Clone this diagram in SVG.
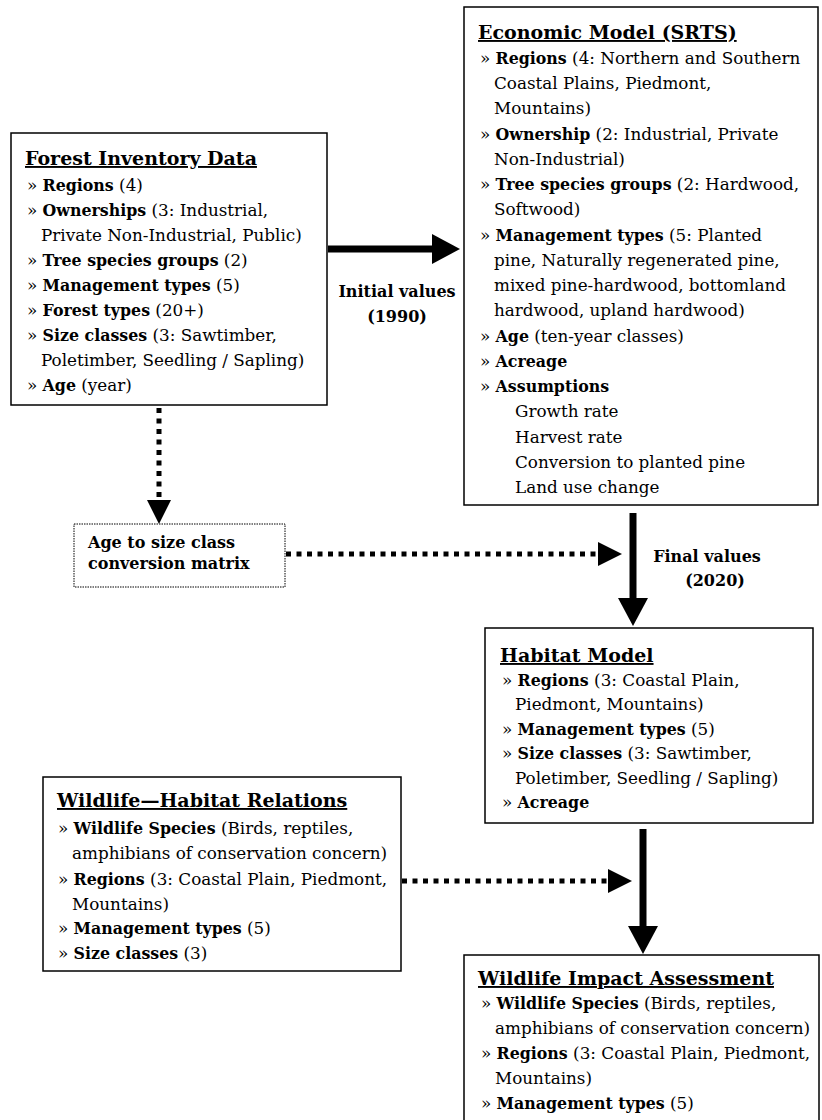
<svg xmlns="http://www.w3.org/2000/svg" width="822" height="1120" viewBox="0 0 822 1120">
<style>
text{font-family:"DejaVu Serif","Liberation Serif",serif;fill:#000}
.t{font-size:19px;font-weight:bold;text-decoration:underline}
.b{font-size:16.8px}
.bb{font-weight:bold;font-size:15.8px}
.lbl{font-size:16px;font-weight:bold}
.box{fill:#fff;stroke:#000;stroke-width:1.5}
.dbox{fill:#fff;stroke:#000;stroke-width:1;stroke-dasharray:1.5 1}
.solid{stroke:#000;stroke-width:7;fill:none}
.dot{stroke:#000;stroke-width:5;stroke-dasharray:5 5.5;fill:none}
</style>
<defs>
<marker id="big" markerUnits="userSpaceOnUse" markerWidth="30" markerHeight="32" refX="0" refY="15" orient="auto"><path d="M0,0 L28,15 L0,30 z" fill="#000"/></marker>
<marker id="small" markerUnits="userSpaceOnUse" markerWidth="26" markerHeight="26" refX="0" refY="12" orient="auto"><path d="M0,0 L24,12 L0,24 z" fill="#000"/></marker>
</defs>
<rect width="822" height="1120" fill="#fff"/>

<g id="connectors">
<path class="solid" d="M328,249 H432" marker-end="url(#big)"/>
<path class="dot" d="M159,408 V500" marker-end="url(#small)"/>
<path class="dot" d="M286,554 H598" marker-end="url(#small)"/>
<path class="solid" d="M633,513 V598" marker-end="url(#big)"/>
<path class="dot" d="M402,881 H608" marker-end="url(#small)"/>
<path class="solid" d="M643,829 V926" marker-end="url(#big)"/>
<text class="lbl" x="397" y="297" text-anchor="middle">Initial values</text>
<text class="lbl" x="397" y="322" text-anchor="middle">(1990)</text>
<text class="lbl" x="707" y="562" text-anchor="middle">Final values</text>
<text class="lbl" x="715" y="586" text-anchor="middle">(2020)</text>
</g>

<g id="forest-inventory">
<rect class="box" x="11" y="133" width="316" height="272"/>
<text class="t" x="25" y="165">Forest Inventory Data</text>
<text class="b" x="27" y="191">» <tspan class="bb">Regions</tspan> (4)</text>
<text class="b" x="27" y="216">» <tspan class="bb">Ownerships</tspan> (3: Industrial,</text>
<text class="b" x="41" y="241">Private Non-Industrial, Public)</text>
<text class="b" x="27" y="266">» <tspan class="bb">Tree species groups</tspan> (2)</text>
<text class="b" x="27" y="291">» <tspan class="bb">Management types</tspan> (5)</text>
<text class="b" x="27" y="316">» <tspan class="bb">Forest types</tspan> (20+)</text>
<text class="b" x="27" y="341">» <tspan class="bb">Size classes</tspan> (3: Sawtimber,</text>
<text class="b" x="41" y="366">Poletimber, Seedling / Sapling)</text>
<text class="b" x="27" y="391">» <tspan class="bb">Age</tspan> (year)</text>
</g>

<g id="economic-model">
<rect class="box" x="464" y="7" width="354" height="498"/>
<text class="t" x="478" y="39">Economic Model (SRTS)</text>
<text class="b" x="480" y="64">» <tspan class="bb">Regions</tspan> (4: Northern and Southern</text>
<text class="b" x="494" y="89">Coastal Plains, Piedmont,</text>
<text class="b" x="494" y="114">Mountains)</text>
<text class="b" x="480" y="140">» <tspan class="bb">Ownership</tspan> (2: Industrial, Private</text>
<text class="b" x="494" y="165">Non-Industrial)</text>
<text class="b" x="480" y="190">» <tspan class="bb">Tree species groups</tspan> (2: Hardwood,</text>
<text class="b" x="494" y="215">Softwood)</text>
<text class="b" x="480" y="241">» <tspan class="bb">Management types</tspan> (5: Planted</text>
<text class="b" x="494" y="266">pine, Naturally regenerated pine,</text>
<text class="b" x="494" y="291">mixed pine-hardwood, bottomland</text>
<text class="b" x="494" y="316">hardwood, upland hardwood)</text>
<text class="b" x="480" y="342">» <tspan class="bb">Age</tspan> (ten-year classes)</text>
<text class="b" x="480" y="367">» <tspan class="bb">Acreage</tspan></text>
<text class="b" x="480" y="392">» <tspan class="bb">Assumptions</tspan></text>
<text class="b" x="515" y="417">Growth rate</text>
<text class="b" x="515" y="443">Harvest rate</text>
<text class="b" x="515" y="468">Conversion to planted pine</text>
<text class="b" x="515" y="493">Land use change</text>
</g>

<g id="age-size-matrix">
<rect class="dbox" x="74" y="524" width="211" height="63"/>
<text class="lbl" x="88" y="548">Age to size class</text>
<text class="lbl" x="88" y="569">conversion matrix</text>
</g>

<g id="habitat-model">
<rect class="box" x="485" y="628" width="328" height="195"/>
<text class="t" x="500" y="662">Habitat Model</text>
<text class="b" x="502" y="686">» <tspan class="bb">Regions</tspan> (3: Coastal Plain,</text>
<text class="b" x="515" y="710">Piedmont, Mountains)</text>
<text class="b" x="502" y="735">» <tspan class="bb">Management types</tspan> (5)</text>
<text class="b" x="502" y="759">» <tspan class="bb">Size classes</tspan> (3: Sawtimber,</text>
<text class="b" x="515" y="784">Poletimber, Seedling / Sapling)</text>
<text class="b" x="502" y="808">» <tspan class="bb">Acreage</tspan></text>
</g>

<g id="wildlife-habitat-relations">
<rect class="box" x="43" y="777" width="358" height="194"/>
<text class="t" x="57" y="807">Wildlife—Habitat Relations</text>
<text class="b" x="58" y="834">» <tspan class="bb">Wildlife Species</tspan> (Birds, reptiles,</text>
<text class="b" x="72" y="859">amphibians of conservation concern)</text>
<text class="b" x="58" y="885">» <tspan class="bb">Regions</tspan> (3: Coastal Plain, Piedmont,</text>
<text class="b" x="72" y="910">Mountains)</text>
<text class="b" x="58" y="934">» <tspan class="bb">Management types</tspan> (5)</text>
<text class="b" x="58" y="959">» <tspan class="bb">Size classes</tspan> (3)</text>
</g>

<g id="wildlife-impact-assessment">
<rect class="box" x="464" y="955" width="355" height="200"/>
<text class="t" x="478" y="985">Wildlife Impact Assessment</text>
<text class="b" x="481" y="1009">» <tspan class="bb">Wildlife Species</tspan> (Birds, reptiles,</text>
<text class="b" x="495" y="1034">amphibians of conservation concern)</text>
<text class="b" x="481" y="1059">» <tspan class="bb">Regions</tspan> (3: Coastal Plain, Piedmont,</text>
<text class="b" x="495" y="1084">Mountains)</text>
<text class="b" x="481" y="1109">» <tspan class="bb">Management types</tspan> (5)</text>
</g>
</svg>
